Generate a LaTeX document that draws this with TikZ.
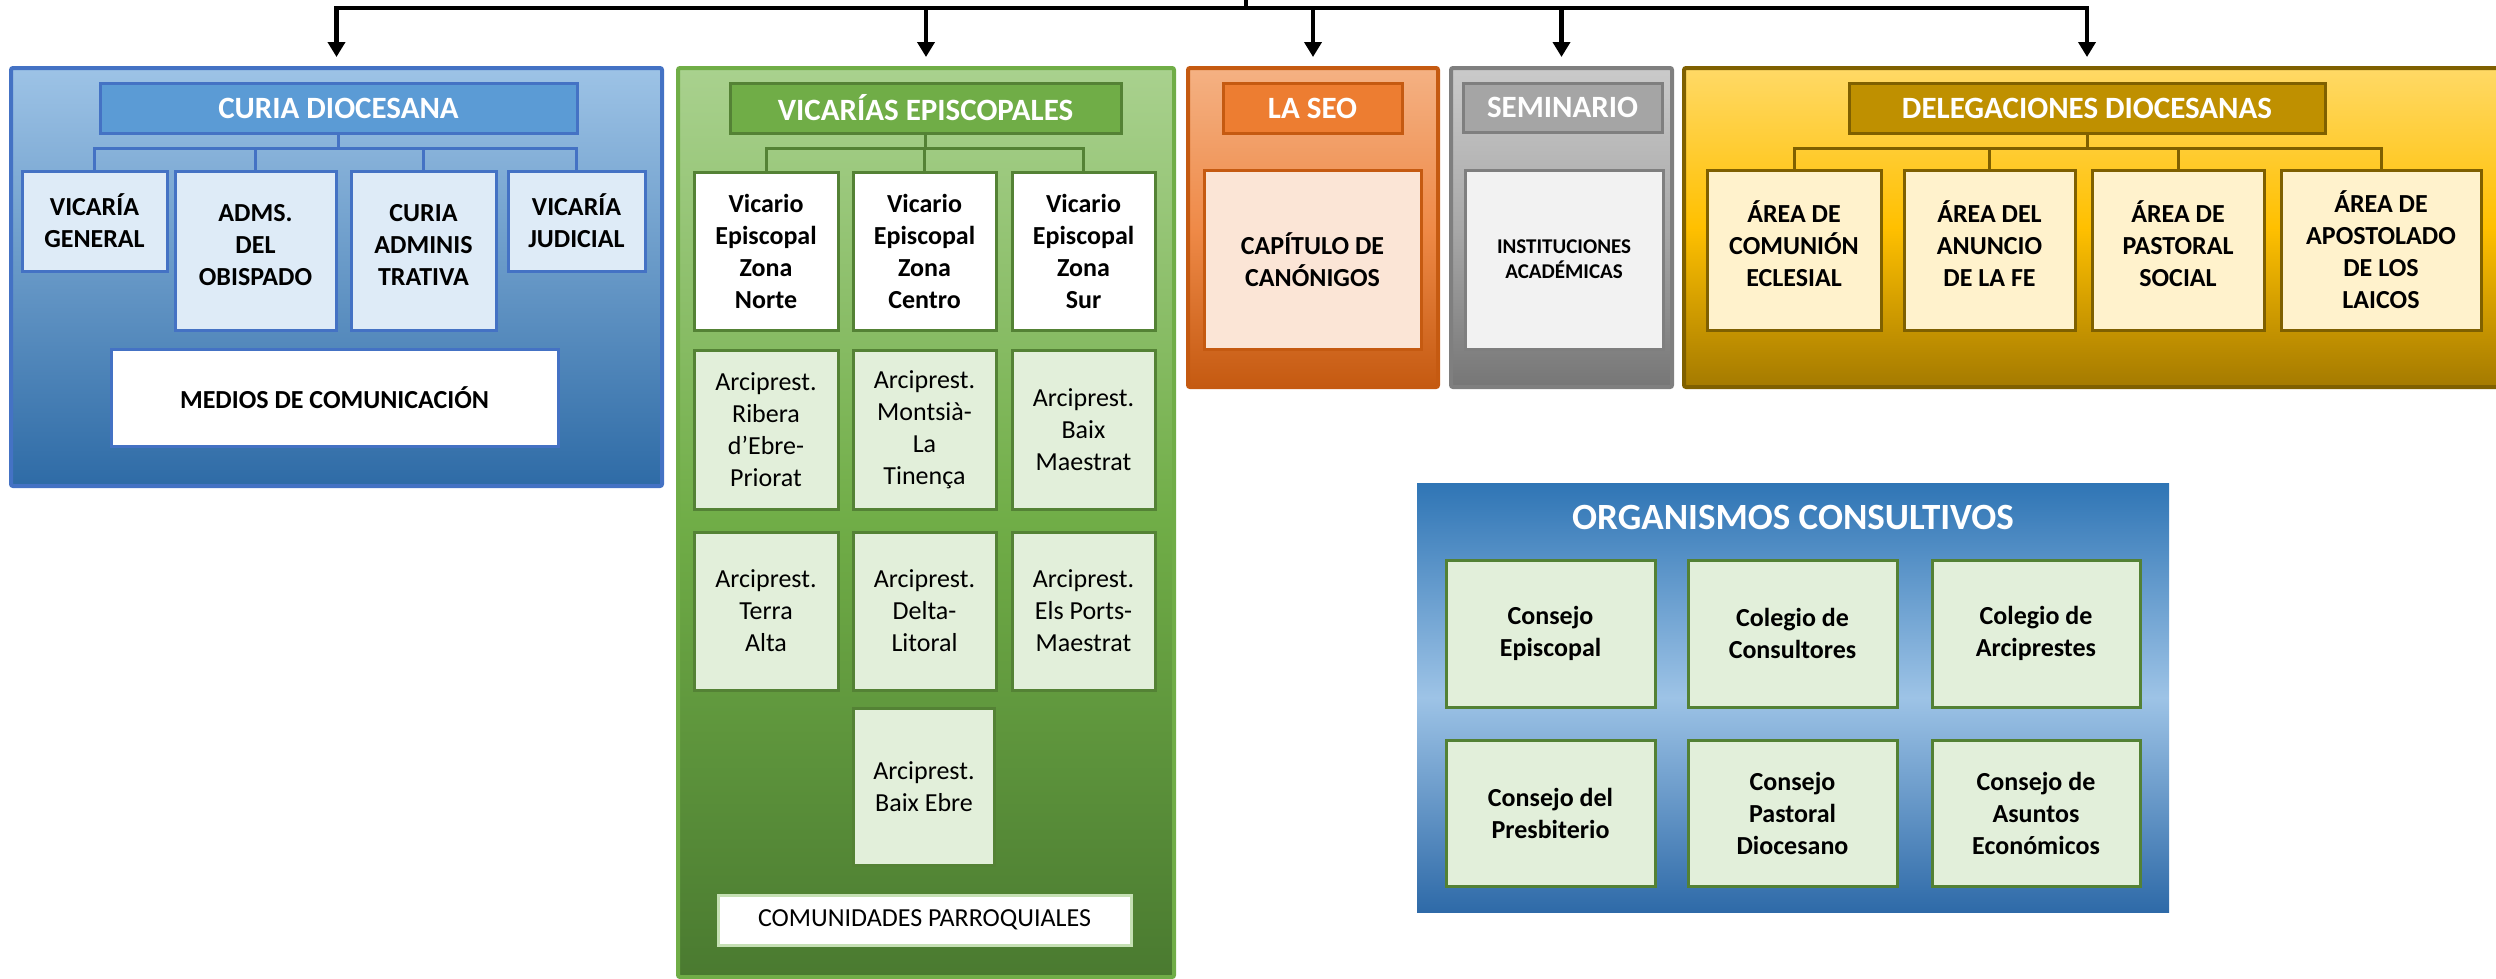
\documentclass[tikz,border=0pt]{standalone}
\usepackage{fontspec}
\setmainfont{Carlito}
\usepackage{tikz}
\usetikzlibrary{arrows.meta}
\definecolor{curiaedge}{HTML}{4472C4}
\definecolor{curiatop}{HTML}{9DC3E6}
\definecolor{curiabot}{HTML}{2E6BA6}
\definecolor{curiahead}{HTML}{5B9BD5}
\definecolor{curiabox}{HTML}{DEEBF7}
\definecolor{vicedge}{HTML}{70AD47}
\definecolor{vicdark}{HTML}{548235}
\definecolor{victop}{HTML}{A9D18E}
\definecolor{vicbot}{HTML}{4A7A30}
\definecolor{vicbox}{HTML}{E2EFDA}
\definecolor{vicpale}{HTML}{C5E0B4}
\definecolor{seoedge}{HTML}{C55A11}
\definecolor{seotop}{HTML}{F4B183}
\definecolor{seomid}{HTML}{EF8A48}
\definecolor{seohead}{HTML}{ED7D31}
\definecolor{seobox}{HTML}{FBE5D6}
\definecolor{semedge}{HTML}{7F7F7F}
\definecolor{semtop}{HTML}{CACACA}
\definecolor{semmid}{HTML}{A8A8A8}
\definecolor{sembot}{HTML}{767676}
\definecolor{semhead}{HTML}{A5A5A5}
\definecolor{sembox}{HTML}{F2F2F2}
\definecolor{deledge}{HTML}{7F6000}
\definecolor{deltop}{HTML}{FFD966}
\definecolor{delmid}{HTML}{FFC000}
\definecolor{delbot}{HTML}{A47A00}
\definecolor{delhead}{HTML}{BF9000}
\definecolor{delbox}{HTML}{FFF2CC}
\definecolor{orgtop}{HTML}{2F75B5}
\definecolor{orgmid}{HTML}{9DC3E6}
\definecolor{orgbot}{HTML}{2E6AA8}
\definecolor{orgedge}{HTML}{538135}
\tikzset{wh/.style 2 args = {minimum width = #1pt, minimum height = #2pt}}
\tikzset{panel/.style = {draw, line width = 4pt, rounded corners = 2pt, inner sep = 0pt}}
\tikzset{head/.style = {draw, line width = 3pt, inner sep = 0pt, text = white,
                        font = \fontsize{31}{36}\selectfont\bfseries}}
\tikzset{unit/.style = {draw, line width = 3pt, inner sep = 0pt, align = center,
                        font = \fontsize{26}{32}\selectfont\bfseries}}
\tikzset{plain/.style = {unit, font = \fontsize{26}{32}\selectfont}}
\tikzset{lift/.style = {text depth = 12pt}}
\tikzset{feed/.style = {line width = 4.5pt, -{Triangle[width = 17pt, length = 15pt]},
                        shorten > = 9pt}}
\tikzset{link/.style = {line width = 3pt}}

\begin{document}
\begin{tikzpicture}[x = 1pt, y = -1pt]
  \useasboundingbox (0, 0) rectangle (2496, 978);
  \clip (0, 0) rectangle (2496, 978);

  \node (curia) at (336.5, 277) [panel, wh = {651}{418}, draw = curiaedge, top color = curiatop, bottom color = curiabot] {};
  \node (ctitle) at (338.5, 108) [head, wh = {477}{50}, draw = curiaedge, fill = curiahead] {CURIA DIOCESANA};
  \node (vg) at (94.5, 221) [unit, wh = {145}{100}, draw = curiaedge, fill = curiabox] {VICARÍA\\GENERAL};
  \node (adms) at (255.5, 250.5) [unit, lift, wh = {161}{159}, draw = curiaedge, fill = curiabox] {ADMS.\\DEL\\OBISPADO};
  \node (cadm) at (423.5, 250.5) [unit, lift, wh = {145}{159}, draw = curiaedge, fill = curiabox] {CURIA\\ADMINIS\\TRATIVA};
  \node (vj) at (576.5, 221) [unit, wh = {137}{100}, draw = curiaedge, fill = curiabox] {VICARÍA\\JUDICIAL};
  \node (medios) at (334.5, 397.5) [unit, wh = {447}{97}, draw = curiaedge, fill = white] {MEDIOS DE COMUNICACIÓN};

  \node (vic) at (926, 522.5) [panel, wh = {496}{909}, draw = vicedge, top color = victop, bottom color = vicbot, middle color = vicedge] {};
  \node (vtitle) at (925.5, 108) [head, wh = {391}{50}, draw = vicdark, fill = vicedge] {VICARÍAS EPISCOPALES};
  \node (norte) at (766, 251) [unit, wh = {144}{158}, draw = vicdark, fill = white] {Vicario\\Episcopal\\Zona\\Norte};
  \node (centro) at (924.5, 251) [unit, wh = {143}{158}, draw = vicdark, fill = white] {Vicario\\Episcopal\\Zona\\Centro};
  \node (sur) at (1083.5, 251) [unit, wh = {143}{158}, draw = vicdark, fill = white] {Vicario\\Episcopal\\Zona\\Sur};
  \node (ribera) at (766, 429.5) [plain, wh = {144}{159}, draw = vicdark, fill = vicbox] {Arciprest.\\Ribera\\d’Ebre-\\Priorat};
  \node (montsia) at (924.5, 429.5) [plain, wh = {143}{159}, draw = vicdark, fill = vicbox] {Arciprest.\\Montsià-\\La\\Tinença};
  \node (baixm) at (1083.5, 429.5) [plain, wh = {143}{159}, draw = vicdark, fill = vicbox] {Arciprest.\\Baix\\Maestrat};
  \node (terra) at (766, 611) [plain, wh = {144}{158}, draw = vicdark, fill = vicbox] {Arciprest.\\Terra\\Alta};
  \node (delta) at (924.5, 611) [plain, wh = {143}{158}, draw = vicdark, fill = vicbox] {Arciprest.\\Delta-\\Litoral};
  \node (ports) at (1083.5, 611) [plain, wh = {143}{158}, draw = vicdark, fill = vicbox] {Arciprest.\\Els Ports-\\Maestrat};
  \node (baixe) at (924, 786.5) [plain, wh = {141}{157}, draw = vicdark, fill = vicbox] {Arciprest.\\Baix Ebre};
  \node (parr) at (924.5, 920) [plain, wh = {413}{50}, draw = vicpale, fill = white] {COMUNIDADES PARROQUIALES};

  \node (seo) at (1313, 227.5) [panel, wh = {250}{319}, draw = seoedge, top color = seotop, bottom color = seoedge, middle color = seomid] {};
  \node (stitle) at (1312.5, 108) [head, wh = {179}{50}, draw = seoedge, fill = seohead] {LA SEO};
  \node (capit) at (1312.5, 259.5) [unit, wh = {217}{179}, draw = seoedge, fill = seobox] {CAPÍTULO DE\\CANÓNIGOS};

  \node (semi) at (1561.5, 227.5) [panel, wh = {221}{319}, draw = semedge, top color = semtop, bottom color = sembot, middle color = semmid] {};
  \node (gtitle) at (1562.5, 107.5) [head, wh = {199}{49}, draw = semedge, fill = semhead] {SEMINARIO};
  \node (inst) at (1564, 259.5) [unit, wh = {198}{179}, draw = semedge, fill = sembox,
                                  font = \fontsize{21}{25}\selectfont\bfseries] {INSTITUCIONES\\ACADÉMICAS};

  \node (deleg) at (2097, 227.5) [panel, wh = {826}{319}, draw = deledge, top color = deltop, bottom color = delbot, middle color = delmid] {};
  \node (dtitle) at (2087, 108) [head, wh = {476}{50}, draw = deledge, fill = delhead] {DELEGACIONES DIOCESANAS};
  \node (comunion) at (1794, 250) [unit, lift, wh = {174}{160}, draw = deledge, fill = delbox] {ÁREA DE\\COMUNIÓN\\ECLESIAL};
  \node (anuncio) at (1989.5, 250) [unit, lift, wh = {171}{160}, draw = deledge, fill = delbox] {ÁREA DEL\\ANUNCIO\\DE LA FE};
  \node (social) at (2178, 250) [unit, lift, wh = {172}{160}, draw = deledge, fill = delbox] {ÁREA DE\\PASTORAL\\SOCIAL};
  \node (laicos) at (2381, 250) [unit, wh = {200}{160}, draw = deledge, fill = delbox] {ÁREA DE\\APOSTOLADO\\DE LOS\\LAICOS};

  \node (org) at (1793, 697.5) [panel, wh = {752}{429}, draw = none, rounded corners = 0pt, top color = orgtop, bottom color = orgbot, middle color = orgmid] {};
  \node (otitle) at (1793, 517) [text = white, font = \fontsize{37}{42}\selectfont\bfseries] {ORGANISMOS CONSULTIVOS};
  \node (episc) at (1550.5, 633.5) [unit, wh = {209}{147}, draw = orgedge, fill = vicbox] {Consejo\\Episcopal};
  \node (consul) at (1792.5, 633.5) [unit, wh = {209}{147}, draw = orgedge, fill = vicbox] {Colegio de\\Consultores};
  \node (arcip) at (2036, 633.5) [unit, wh = {208}{147}, draw = orgedge, fill = vicbox] {Colegio de\\Arciprestes};
  \node (presb) at (1550.5, 813) [unit, wh = {209}{146}, draw = orgedge, fill = vicbox] {Consejo del\\Presbiterio};
  \node (pastor) at (1792.5, 813) [unit, wh = {209}{146}, draw = orgedge, fill = vicbox] {Consejo\\Pastoral\\Diocesano};
  \node (econ) at (2036, 813) [unit, wh = {208}{146}, draw = orgedge, fill = vicbox] {Consejo de\\Asuntos\\Económicos};

  \foreach \child in {vg, adms, cadm, vj}
    \draw [link, curiaedge] (ctitle.south) -- ++(0, 14) -| (\child.north);
  \foreach \child in {norte, centro, sur}
    \draw [link, vicdark] (vtitle.south) -- ++(0, 14) -| (\child.north);
  \foreach \child in {comunion, anuncio, social, laicos}
    \draw [link, deledge] (dtitle.south) -- ++(0, 14) -| (\child.north);

  \coordinate (top) at (1246, -5);
  \coordinate (hub) at (1246, 8);
  \draw [line width = 4.5pt] (top) -- (hub);
  \draw [feed] (hub) -| (curia.north);
  \draw [feed] (hub) -| (vic.north);
  \draw [feed] (hub) -| (seo.north);
  \draw [feed] (hub) -| (semi.north);
  \draw [feed] (hub) -| (deleg.north -| dtitle.north);
\end{tikzpicture}
\end{document}
